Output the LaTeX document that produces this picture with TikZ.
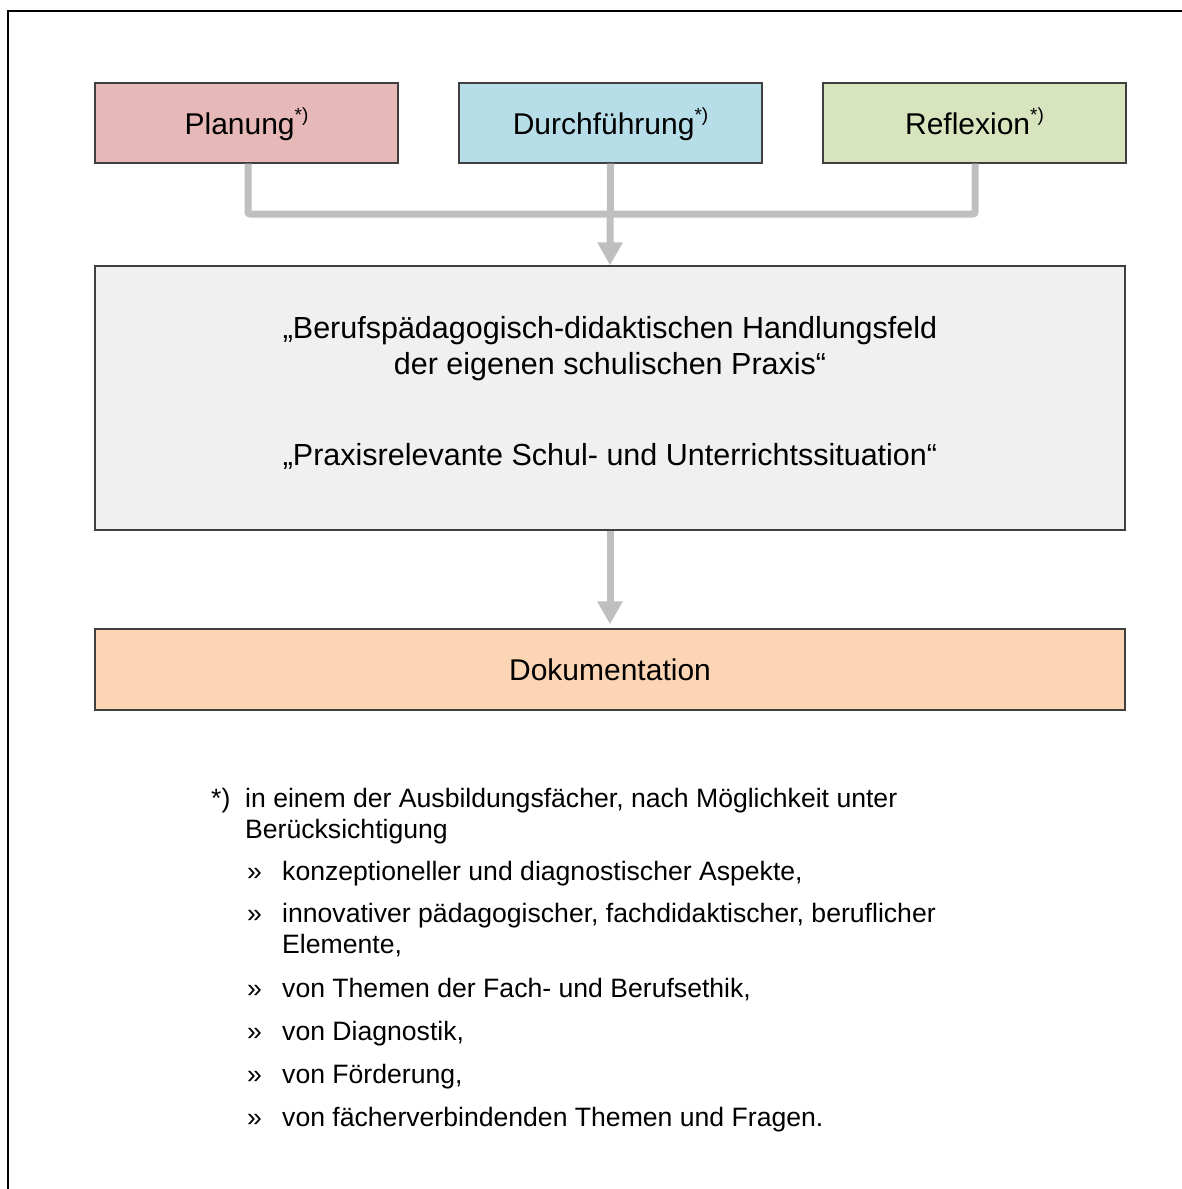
\documentclass[tikz,border=0pt]{standalone}
\usepackage{fontspec}
\setmainfont{Liberation Sans}
\usetikzlibrary{arrows.meta}
\definecolor{planfill}{HTML}{E6B8B7}
\definecolor{durchfill}{HTML}{B7DEE8}
\definecolor{reflfill}{HTML}{D7E4BD}
\definecolor{midfill}{HTML}{F0F0F0}
\definecolor{dokfill}{HTML}{FCD5B5}
\definecolor{boxline}{HTML}{3F3F3F}
\definecolor{conn}{HTML}{BFBFBF}
\tikzset{
  box/.style={draw=boxline, line width=1.3pt, inner sep=0pt, anchor=center},
  topbox/.style={box, minimum width=303pt, minimum height=80pt, text height=28pt, text depth=6pt, font=\fontsize{30}{36}\selectfont},
  bigtxt/.style={anchor=base, inner sep=0pt, font=\fontsize{30.5}{36}\selectfont},
  fntxt/.style={anchor=base west, inner sep=0pt, font=\fontsize{26.6}{31}\selectfont},
  connline/.style={draw=conn, line width=7pt, rounded corners=2pt},
  connarrow/.style={draw=conn, line width=7pt, -{Triangle[width=24pt,length=23pt]}}
}
\newcommand{\supnote}{\raisebox{0.42em}{\fontsize{19}{20}\selectfont *)}}
\begin{document}
\begin{tikzpicture}[x=1pt,y=-1pt]
\useasboundingbox (0,0) rectangle (1182,1189);
% outer frame (top and left edges)
\coordinate (fbl) at (8,1190);
\coordinate (ftl) at (8,11);
\coordinate (ftr) at (1183,11);
\draw[line width=2.4pt, black] (fbl) -- (ftl) -- (ftr);
% top boxes
\node[topbox, fill=planfill] (plan) at (246.5,123) {Planung\supnote};
\node[topbox, fill=durchfill] (durch) at (610.5,123) {Durchführung\supnote};
\node[topbox, fill=reflfill] (refl) at (974.5,123) {Reflexion\supnote};
% middle box
\node[box, fill=midfill, minimum width=1030pt, minimum height=264pt] (mid) at (610,398) {};
\node[bigtxt] (m1) at (610,338) {„Berufspädagogisch-didaktischen Handlungsfeld};
\node[bigtxt] (m2) at (610,374) {der eigenen schulischen Praxis“};
\node[bigtxt] (m3) at (610,465) {„Praxisrelevante Schul- und Unterrichtssituation“};
% documentation box
\node[box, fill=dokfill, minimum width=1030pt, minimum height=81pt, text height=28pt, text depth=6pt, font=\fontsize{30}{36}\selectfont] (dok) at (610,669.5) {Dokumentation};
% connectors
\coordinate (jl) at (248,214);
\coordinate (jr) at (975,214);
\draw[connline] (plan.south -| jl) -- (jl) -- (jr) -- (refl.south -| jr);
\draw[connarrow] (durch.south) -- (mid.north);
\draw[connarrow] (mid.south) -- ([yshift=4pt]dok.north);
% footnote
\node[fntxt] (star) at (211,807) {*)};
\node[fntxt] (f1) at (245,807) {in einem der Ausbildungsfächer, nach Möglichkeit unter};
\node[fntxt] (f2) at (245,838) {Berücksichtigung};
\node[fntxt] (b1) at (247,880) {»};
\node[fntxt] (t1) at (282,880) {konzeptioneller und diagnostischer Aspekte,};
\node[fntxt] (b2) at (247,922) {»};
\node[fntxt] (t2) at (282,922) {innovativer pädagogischer, fachdidaktischer, beruflicher};
\node[fntxt] (t2b) at (282,953) {Elemente,};
\node[fntxt] (b3) at (247,997) {»};
\node[fntxt] (t3) at (282,997) {von Themen der Fach- und Berufsethik,};
\node[fntxt] (b4) at (247,1040) {»};
\node[fntxt] (t4) at (282,1040) {von Diagnostik,};
\node[fntxt] (b5) at (247,1083) {»};
\node[fntxt] (t5) at (282,1083) {von Förderung,};
\node[fntxt] (b6) at (247,1126) {»};
\node[fntxt] (t6) at (282,1126) {von fächerverbindenden Themen und Fragen.};
\end{tikzpicture}
\end{document}
